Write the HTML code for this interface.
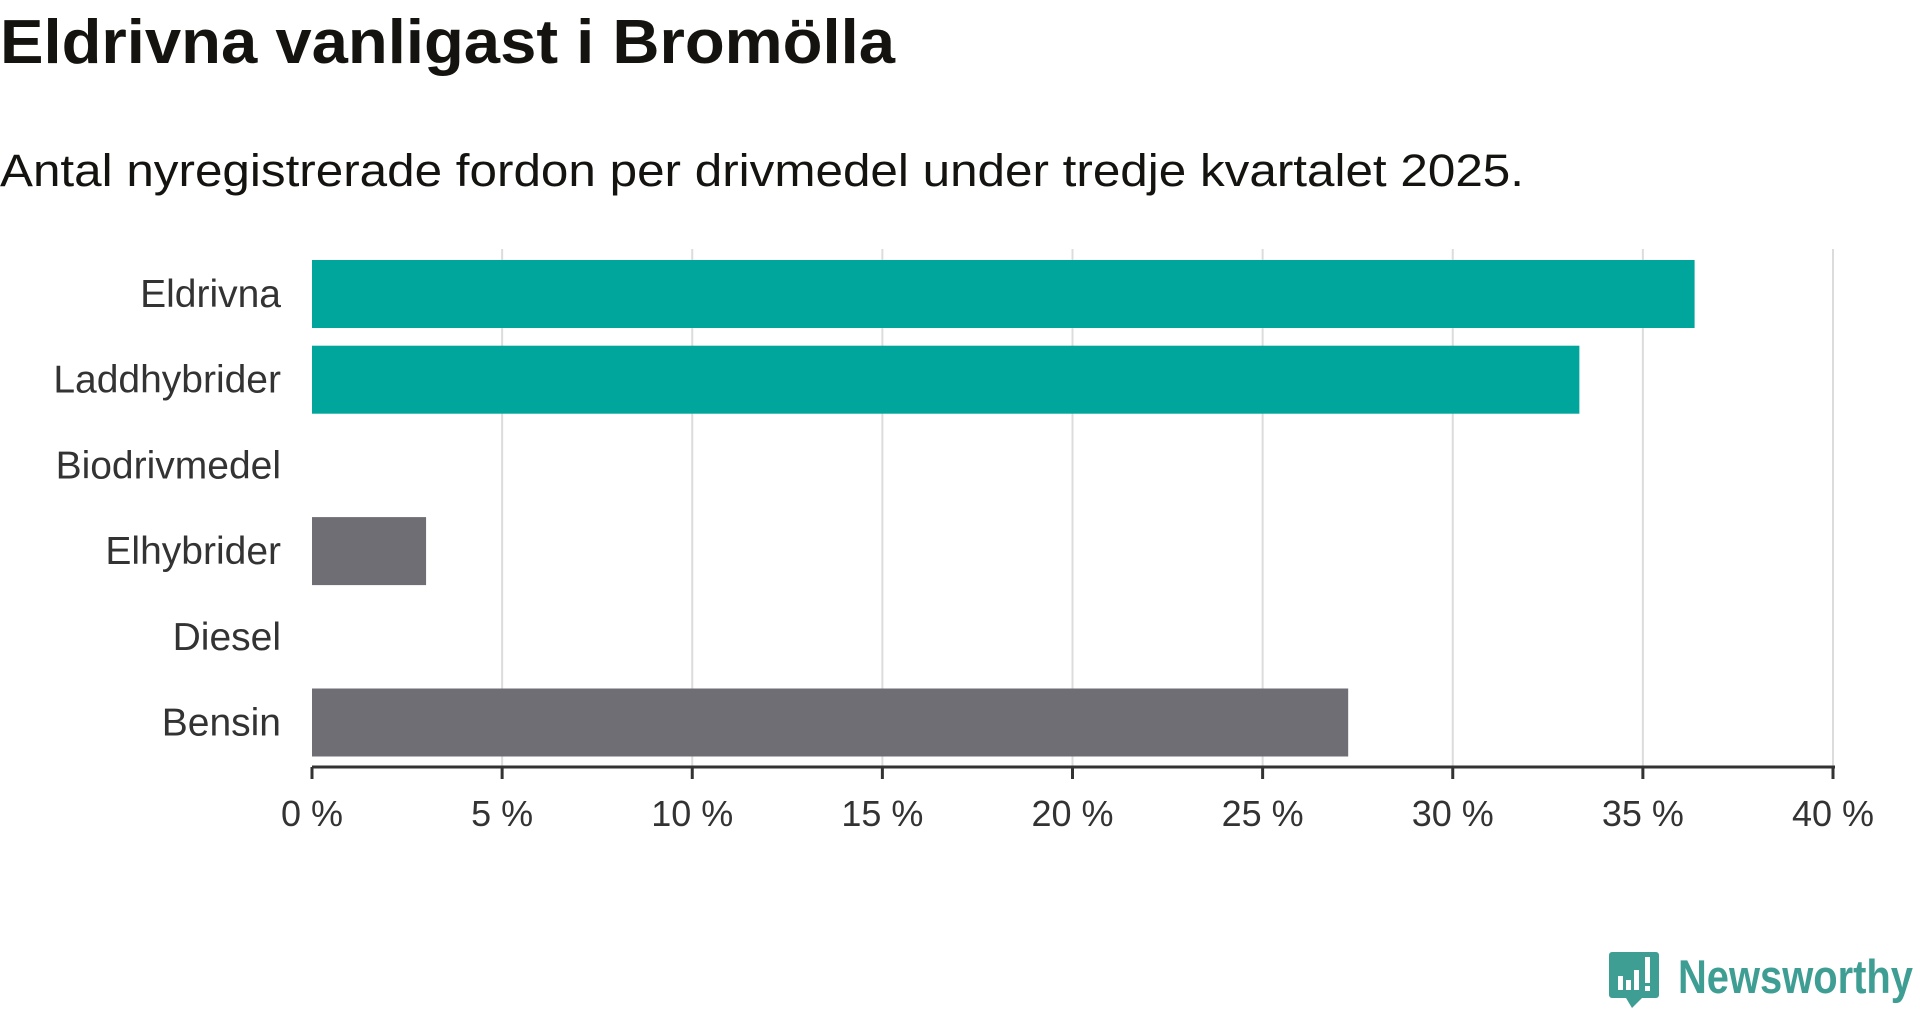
<!DOCTYPE html>
<html><head><meta charset="utf-8"><style>
body{margin:0;background:#fff;width:1920px;height:1010px;overflow:hidden;font-family:"Liberation Sans",sans-serif}
</style></head><body>
<svg width="1920" height="1010">
<text x="0" y="63" font-size="62" font-weight="bold" fill="#14130f" textLength="895" lengthAdjust="spacingAndGlyphs">Eldrivna vanligast i Bromölla</text>
<text x="0" y="186" font-size="45" fill="#14130f" textLength="1524" lengthAdjust="spacingAndGlyphs">Antal nyregistrerade fordon per drivmedel under tredje kvartalet 2025.</text>
<g id="grid"></g><g id="bars"></g><g id="axis"></g>
<g>
<path d="M1612 952 h44 a3 3 0 0 1 3 3 v40 a3 3 0 0 1 -3 3 h-14 l-10 10 l-6 -10 h-14 a3 3 0 0 1 -3 -3 v-40 a3 3 0 0 1 3 -3z" fill="#3f9e93"/>
<rect x="1618" y="976" width="5" height="14" fill="#fff"/><rect x="1626" y="980" width="5" height="10" fill="#fff"/><rect x="1634" y="970" width="5" height="20" fill="#fff"/><rect x="1645" y="957" width="5" height="26" fill="#fff"/><rect x="1645" y="986" width="5" height="5" fill="#fff"/>
<text x="1678" y="993" font-size="47" font-weight="bold" fill="#3f9e93" textLength="235" lengthAdjust="spacingAndGlyphs">Newsworthy</text>
</g>
</svg>
<script>
const categories=["Eldrivna","Laddhybrider","Biodrivmedel","Elhybrider","Diesel","Bensin"];
const values=[36.36,33.33,0,3.0,0,27.25];
const barColors=["#00a59b","#00a59b","#6f6e74","#6f6e74","#6f6e74","#6f6e74"];
const ticks=[0,5,10,15,20,25,30,35,40];
const tickLabels=["0 %","5 %","10 %","15 %","20 %","25 %","30 %","35 %","40 %"];
const NS="http://www.w3.org/2000/svg";
const x0=312,x1=1833,xmax=40,top0=260,pitch=85.7,bh=68,axisY=767;
function xs(v){return x0+(v/xmax)*(x1-x0);}
function yb(i){return top0+i*pitch;}
function mk(t,a,p){const e=document.createElementNS(NS,t);for(const k in a)e.setAttribute(k,a[k]);p.appendChild(e);return e;}
const grid=document.getElementById('grid'),bars=document.getElementById('bars'),axis=document.getElementById('axis');
ticks.forEach((t,i)=>{
 if(i>0){const g=mk('line',{x1:xs(t),x2:xs(t),y1:249,y2:axisY,stroke:'#dcdcdc','stroke-width':2},grid);
 
 }
 const tk=mk('line',{x1:xs(t),x2:xs(t),y1:axisY,y2:axisY+12,stroke:'#333','stroke-width':3},axis);
 
 
 const lb=mk('text',{x:xs(t),y:826,'font-size':36,fill:'#333','text-anchor':'middle'},axis);
 lb.textContent=tickLabels[i];
 
 
});
const al=mk('line',{x1:x0,x2:x1+2,y1:axisY,y2:axisY,stroke:'#333','stroke-width':3},axis);


categories.forEach((c,i)=>{
 const r=mk('rect',{x:x0,y:yb(i),width:xs(values[i])-x0,height:bh,fill:barColors[i]},bars);
 
 
 const t=mk('text',{x:281,y:yb(i)+bh/2+13,'font-size':39,fill:'#333','text-anchor':'end'},bars);
 t.textContent=c;
 
 
});
</script>
</body></html>
